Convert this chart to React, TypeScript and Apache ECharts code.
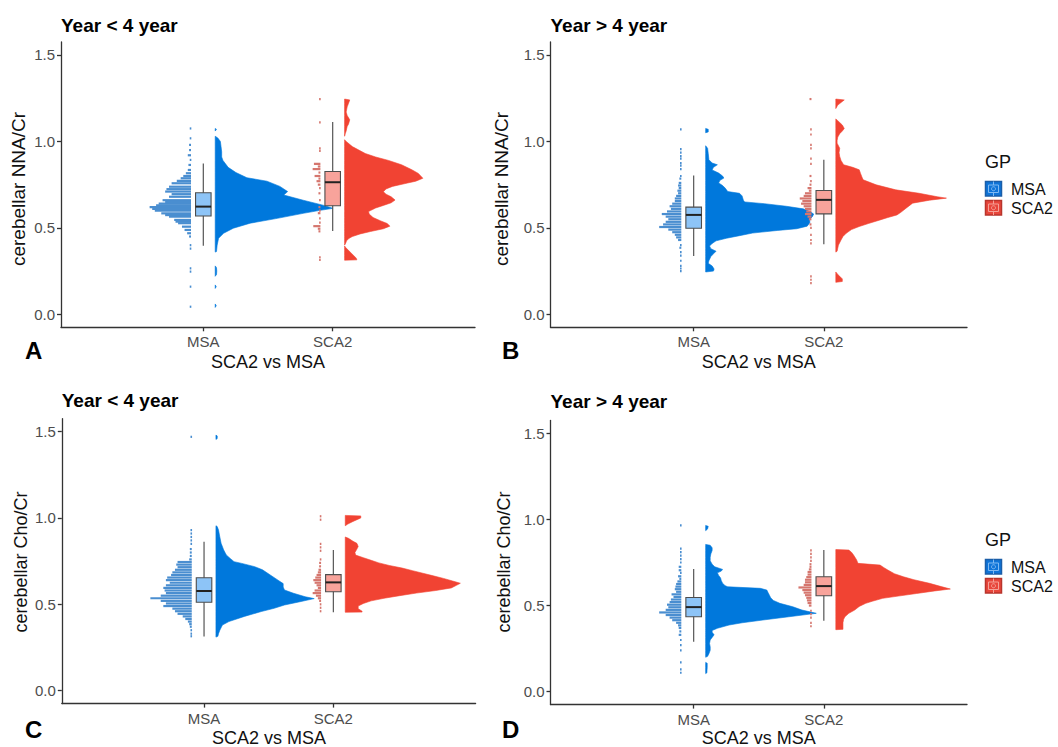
import React, { useEffect, useRef } from 'react';
import * as echarts from 'echarts';

// ---------- texts ----------
const categories = ['MSA', 'SCA2'];
const yTicks = [0, 0.5, 1.0, 1.5];
const panelTitles = ['Year < 4 year', 'Year > 4 year', 'Year < 4 year', 'Year > 4 year'];
const panelLetters = ['A', 'B', 'C', 'D'];
const yTitles = ['cerebellar NNA/Cr', 'cerebellar NNA/Cr', 'cerebellar Cho/Cr', 'cerebellar Cho/Cr'];
const xTitle = 'SCA2 vs MSA';
const legendTitle = 'GP';

// ---------- box stats [min, q1, median, q3, max] ----------
const boxA_MSA = [0.396, 0.569, 0.623, 0.703, 0.872];
const boxA_SCA2 = [0.482, 0.628, 0.764, 0.826, 1.112];
const boxB_MSA = [0.338, 0.498, 0.575, 0.62, 0.803];
const boxB_SCA2 = [0.405, 0.581, 0.662, 0.716, 0.894];
const boxC_MSA = [0.313, 0.512, 0.577, 0.654, 0.863];
const boxC_SCA2 = [0.454, 0.573, 0.627, 0.672, 0.815];
const boxD_MSA = [0.29, 0.435, 0.491, 0.547, 0.712];
const boxD_SCA2 = [0.412, 0.557, 0.613, 0.667, 0.822];

// ---------- half-violin profiles [y, half width] (top to bottom) ----------
const violinA_MSA = [
  [1.075, 0], [1.07, 0.01], [1.06, 0],
  [1.03, 0], [1.02, 0.02], [1.0, 0.04], [0.97, 0.045], [0.94, 0.05], [0.91, 0.05], [0.89, 0.06],
  [0.85, 0.1], [0.82, 0.16], [0.79, 0.245], [0.77, 0.4], [0.74, 0.5], [0.71, 0.56], [0.69, 0.53],
  [0.66, 0.68], [0.63, 0.84], [0.613, 0.91], [0.6, 0.8], [0.584, 0.68], [0.555, 0.48], [0.527, 0.27],
  [0.498, 0.14], [0.469, 0.065], [0.44, 0.026], [0.4, 0.015], [0.363, 0.01], [0.36, 0],
  [0.28, 0], [0.27, 0.01], [0.25, 0.012], [0.23, 0.01], [0.22, 0],
  [0.17, 0], [0.16, 0.008], [0.15, 0],
  [0.06, 0], [0.05, 0.008], [0.04, 0],
];
const violinA_SCA2 = [
  [1.245, 0], [1.24, 0.04], [1.22, 0.03], [1.2, 0.02], [1.17, 0.012], [1.15, 0.02], [1.125, 0.04],
  [1.1, 0.03], [1.087, 0.02], [1.06, 0.012], [1.045, 0.005], [1.03, 0],
  [1.01, 0], [1.0, 0.012], [0.97, 0.06], [0.95, 0.11], [0.93, 0.16], [0.91, 0.24], [0.89, 0.34],
  [0.865, 0.44], [0.836, 0.52], [0.815, 0.57], [0.787, 0.605], [0.77, 0.55], [0.755, 0.46],
  [0.74, 0.37], [0.725, 0.32], [0.709, 0.3], [0.695, 0.32], [0.68, 0.36], [0.661, 0.39],
  [0.645, 0.36], [0.63, 0.3], [0.615, 0.24], [0.6, 0.2], [0.594, 0.185], [0.58, 0.19],
  [0.56, 0.22], [0.54, 0.28], [0.525, 0.33], [0.51, 0.35], [0.495, 0.3], [0.479, 0.2],
  [0.465, 0.12], [0.45, 0.06], [0.44, 0.035], [0.425, 0.015], [0.411, 0.008], [0.4, 0],
  [0.395, 0], [0.385, 0.01], [0.37, 0.03], [0.355, 0.05], [0.34, 0.07], [0.325, 0.09], [0.315, 0.095], [0.313, 0],
];
const violinB_MSA = [
  [1.075, 0], [1.07, 0.02], [1.055, 0.02], [1.05, 0],
  [0.975, 0], [0.96, 0.015], [0.93, 0.02], [0.894, 0.025], [0.875, 0.05], [0.865, 0.09], [0.85, 0.06],
  [0.835, 0.05], [0.817, 0.1], [0.8, 0.13], [0.788, 0.14], [0.775, 0.11], [0.76, 0.1], [0.745, 0.13],
  [0.73, 0.15], [0.71, 0.17], [0.7, 0.26], [0.685, 0.28], [0.66, 0.29], [0.65, 0.3], [0.64, 0.45],
  [0.625, 0.62], [0.61, 0.75], [0.595, 0.8], [0.58, 0.83], [0.565, 0.82], [0.55, 0.8], [0.53, 0.8], [0.51, 0.78],
  [0.495, 0.7], [0.485, 0.55], [0.47, 0.36], [0.455, 0.26], [0.44, 0.16], [0.425, 0.08], [0.41, 0.05],
  [0.395, 0.03], [0.38, 0.04], [0.365, 0.08], [0.35, 0.06], [0.334, 0.04], [0.31, 0.025], [0.295, 0.02],
  [0.28, 0.05], [0.262, 0.065], [0.25, 0.06], [0.245, 0],
];
const violinB_SCA2 = [
  [1.245, 0], [1.24, 0.065], [1.225, 0.04], [1.21, 0.015], [1.19, 0],
  [1.13, 0], [1.12, 0.015], [1.095, 0.05], [1.075, 0.065], [1.06, 0.05], [1.045, 0.03], [1.025, 0.015],
  [1.005, 0.01], [0.99, 0.01], [0.96, 0.03], [0.935, 0.025], [0.913, 0.03], [0.89, 0.04], [0.865, 0.06],
  [0.85, 0.13], [0.836, 0.18], [0.815, 0.19], [0.795, 0.2], [0.778, 0.21], [0.749, 0.31], [0.72, 0.46],
  [0.7, 0.64], [0.68, 0.78], [0.672, 0.85], [0.66, 0.72], [0.643, 0.59], [0.614, 0.54], [0.59, 0.5],
  [0.575, 0.47], [0.56, 0.4], [0.546, 0.34], [0.525, 0.25], [0.508, 0.18], [0.49, 0.12], [0.469, 0.08],
  [0.45, 0.055], [0.43, 0.04], [0.4, 0.02], [0.365, 0.01], [0.36, 0],
  [0.245, 0], [0.235, 0.01], [0.22, 0.03], [0.205, 0.05], [0.19, 0.05], [0.185, 0],
];
const violinC_MSA = [
  [1.48, 0], [1.475, 0.01], [1.46, 0.01], [1.455, 0],
  [0.955, 0], [0.95, 0.01], [0.93, 0.02], [0.89, 0.03], [0.853, 0.04], [0.815, 0.06], [0.786, 0.08],
  [0.766, 0.11], [0.747, 0.14], [0.737, 0.2], [0.718, 0.3], [0.7, 0.36], [0.67, 0.42], [0.64, 0.48],
  [0.62, 0.52], [0.6, 0.52], [0.583, 0.53], [0.564, 0.6], [0.544, 0.69], [0.533, 0.76], [0.515, 0.65],
  [0.496, 0.53], [0.477, 0.45], [0.458, 0.35], [0.43, 0.22], [0.4, 0.1], [0.38, 0.05], [0.35, 0.03],
  [0.33, 0.02], [0.315, 0.015], [0.31, 0],
];
const violinC_SCA2 = [
  [1.015, 0], [1.012, 0.12], [1.0, 0.12], [0.99, 0.09], [0.98, 0.06], [0.965, 0.02], [0.955, 0],
  [0.89, 0], [0.882, 0.025], [0.865, 0.06], [0.853, 0.09], [0.835, 0.1], [0.82, 0.09], [0.8, 0.075],
  [0.785, 0.08], [0.77, 0.14], [0.755, 0.2], [0.74, 0.26], [0.725, 0.34], [0.71, 0.44], [0.695, 0.52],
  [0.68, 0.6], [0.665, 0.68], [0.65, 0.76], [0.635, 0.83], [0.622, 0.89], [0.61, 0.86], [0.595, 0.82],
  [0.58, 0.7], [0.565, 0.55], [0.55, 0.42], [0.535, 0.3], [0.52, 0.2], [0.505, 0.14], [0.49, 0.1],
  [0.475, 0.1], [0.46, 0.13], [0.455, 0.13], [0.454, 0],
];
const violinD_MSA = [
  [0.965, 0], [0.96, 0.02], [0.945, 0.015], [0.935, 0],
  [0.855, 0], [0.85, 0.035], [0.835, 0.05], [0.82, 0.05], [0.8, 0.04], [0.78, 0.035], [0.76, 0.035],
  [0.74, 0.05], [0.725, 0.07], [0.71, 0.13], [0.7, 0.12], [0.69, 0.09], [0.675, 0.1], [0.66, 0.115],
  [0.645, 0.12], [0.63, 0.13], [0.615, 0.15], [0.609, 0.17], [0.6, 0.42], [0.59, 0.47], [0.575, 0.48],
  [0.56, 0.49], [0.545, 0.5], [0.53, 0.52], [0.513, 0.57], [0.493, 0.67], [0.474, 0.74], [0.455, 0.85],
  [0.435, 0.64], [0.416, 0.44], [0.4, 0.28], [0.387, 0.18], [0.368, 0.09], [0.355, 0.05], [0.345, 0.05],
  [0.33, 0.065], [0.315, 0.05], [0.3, 0.035], [0.28, 0.03], [0.26, 0.035], [0.24, 0.035], [0.22, 0.025],
  [0.205, 0.015], [0.2, 0],
  [0.17, 0], [0.165, 0.012], [0.14, 0.012], [0.12, 0.01], [0.11, 0.01], [0.105, 0],
];
const violinD_SCA2 = [
  [0.825, 0], [0.822, 0.1], [0.81, 0.12], [0.795, 0.135], [0.783, 0.145], [0.765, 0.16], [0.745, 0.17],
  [0.735, 0.34], [0.72, 0.37], [0.706, 0.4], [0.685, 0.45], [0.667, 0.52], [0.65, 0.6], [0.629, 0.72],
  [0.61, 0.81], [0.596, 0.88], [0.585, 0.76], [0.57, 0.62], [0.555, 0.48], [0.542, 0.36], [0.525, 0.28],
  [0.513, 0.23], [0.495, 0.18], [0.474, 0.145], [0.455, 0.1], [0.435, 0.07], [0.42, 0.06], [0.4, 0.055],
  [0.38, 0.055], [0.362, 0.055], [0.36, 0],
];

// ---------- dot strips [y, stack length] ----------
const dotsA_MSA = [
  [1.075, 0.01], [1.018, 0.01], [0.98, 0.015], [0.95, 0.015], [0.92, 0.025], [0.893, 0.01], [0.864, 0.02],
  [0.835, 0.025], [0.816, 0.04], [0.8, 0.06], [0.787, 0.08], [0.772, 0.11], [0.758, 0.15], [0.738, 0.17],
  [0.724, 0.19], [0.71, 0.2], [0.695, 0.15], [0.68, 0.17], [0.66, 0.22], [0.65, 0.2], [0.64, 0.25],
  [0.63, 0.27], [0.62, 0.32], [0.61, 0.3], [0.6, 0.28], [0.584, 0.23], [0.574, 0.2], [0.565, 0.17],
  [0.546, 0.13], [0.536, 0.12], [0.527, 0.1], [0.507, 0.07], [0.488, 0.05], [0.469, 0.03], [0.45, 0.015],
  [0.4, 0.01], [0.38, 0.01], [0.266, 0.01], [0.247, 0.01], [0.16, 0.01], [0.044, 0.01],
];
const dotsA_SCA2 = [
  [1.245, 0.01], [1.11, 0.01], [0.96, 0.01], [0.945, 0.01], [0.87, 0.05], [0.855, 0.02], [0.84, 0.06],
  [0.82, 0.015], [0.8, 0.045], [0.785, 0.015], [0.77, 0.03], [0.75, 0.02], [0.73, 0.01], [0.7, 0.015],
  [0.66, 0.01], [0.62, 0.015], [0.6, 0.01], [0.585, 0.02], [0.555, 0.01], [0.53, 0.01], [0.51, 0.055],
  [0.495, 0.02], [0.48, 0.015], [0.33, 0.01], [0.315, 0.01],
];
const dotsB_MSA = [
  [1.07, 0.01], [0.955, 0.01], [0.935, 0.01], [0.915, 0.01], [0.9, 0.01], [0.875, 0.01], [0.86, 0.01],
  [0.84, 0.01], [0.8, 0.01], [0.785, 0.015], [0.76, 0.02], [0.745, 0.025], [0.73, 0.02], [0.715, 0.03],
  [0.7, 0.025], [0.685, 0.04], [0.67, 0.05], [0.655, 0.05], [0.64, 0.07], [0.625, 0.09], [0.61, 0.08],
  [0.595, 0.11], [0.58, 0.15], [0.565, 0.12], [0.55, 0.1], [0.535, 0.12], [0.52, 0.14], [0.505, 0.17],
  [0.49, 0.1], [0.475, 0.07], [0.46, 0.05], [0.445, 0.04], [0.43, 0.025], [0.4, 0.01], [0.385, 0.015],
  [0.36, 0.01], [0.34, 0.01], [0.31, 0.01], [0.28, 0.01], [0.265, 0.01], [0.25, 0.01],
];
const dotsB_SCA2 = [
  [1.245, 0.015], [1.07, 0.01], [1.04, 0.01], [0.98, 0.01], [0.96, 0.01], [0.9, 0.01], [0.87, 0.01],
  [0.8, 0.015], [0.77, 0.01], [0.75, 0.015], [0.73, 0.03], [0.715, 0.02], [0.7, 0.05], [0.685, 0.06],
  [0.67, 0.09], [0.655, 0.07], [0.64, 0.08], [0.625, 0.06], [0.61, 0.05], [0.595, 0.04], [0.58, 0.05],
  [0.565, 0.03], [0.55, 0.02], [0.52, 0.015], [0.5, 0.01], [0.46, 0.01], [0.43, 0.01], [0.41, 0.01],
  [0.22, 0.01], [0.2, 0.01], [0.18, 0.01],
];
const dotsC_MSA = [
  [1.47, 0.01], [0.93, 0.01], [0.91, 0.01], [0.89, 0.01], [0.87, 0.01], [0.85, 0.01], [0.82, 0.015],
  [0.8, 0.015], [0.78, 0.015], [0.76, 0.02], [0.745, 0.11], [0.73, 0.12], [0.715, 0.11], [0.7, 0.13],
  [0.685, 0.15], [0.67, 0.16], [0.655, 0.19], [0.64, 0.2], [0.625, 0.17], [0.61, 0.2], [0.595, 0.22],
  [0.58, 0.21], [0.565, 0.2], [0.55, 0.24], [0.535, 0.32], [0.52, 0.24], [0.505, 0.2], [0.49, 0.22],
  [0.475, 0.15], [0.46, 0.13], [0.445, 0.11], [0.43, 0.07], [0.415, 0.05], [0.4, 0.03], [0.385, 0.02],
  [0.37, 0.015], [0.35, 0.01], [0.33, 0.01], [0.315, 0.01],
];
const dotsC_SCA2 = [
  [1.01, 0.01], [0.99, 0.01], [0.85, 0.01], [0.83, 0.01], [0.81, 0.01], [0.76, 0.01], [0.74, 0.015],
  [0.72, 0.015], [0.7, 0.02], [0.685, 0.025], [0.67, 0.035], [0.655, 0.045], [0.64, 0.06], [0.625, 0.05],
  [0.61, 0.035], [0.595, 0.025], [0.58, 0.05], [0.565, 0.065], [0.55, 0.04], [0.535, 0.025], [0.52, 0.015],
  [0.5, 0.01], [0.48, 0.01], [0.46, 0.01],
];
const dotsD_MSA = [
  [0.965, 0.01], [0.83, 0.01], [0.81, 0.01], [0.79, 0.01], [0.77, 0.01], [0.75, 0.01], [0.725, 0.02],
  [0.705, 0.02], [0.69, 0.01], [0.67, 0.025], [0.655, 0.015], [0.64, 0.03], [0.625, 0.04], [0.61, 0.045],
  [0.595, 0.05], [0.58, 0.04], [0.565, 0.075], [0.55, 0.06], [0.535, 0.08], [0.52, 0.09], [0.505, 0.11],
  [0.49, 0.1], [0.475, 0.12], [0.46, 0.17], [0.445, 0.12], [0.43, 0.09], [0.415, 0.07], [0.4, 0.04],
  [0.385, 0.025], [0.37, 0.02], [0.35, 0.015], [0.33, 0.02], [0.3, 0.01], [0.27, 0.01], [0.24, 0.01],
  [0.17, 0.01], [0.13, 0.01], [0.11, 0.01],
];
const dotsD_SCA2 = [
  [0.82, 0.01], [0.8, 0.01], [0.78, 0.01], [0.76, 0.01], [0.74, 0.015], [0.725, 0.015], [0.71, 0.02],
  [0.695, 0.03], [0.68, 0.03], [0.665, 0.04], [0.65, 0.05], [0.635, 0.05], [0.62, 0.06], [0.605, 0.1],
  [0.59, 0.07], [0.575, 0.06], [0.56, 0.05], [0.545, 0.04], [0.53, 0.035], [0.515, 0.03], [0.5, 0.02],
  [0.47, 0.01], [0.45, 0.01], [0.43, 0.01], [0.4, 0.01], [0.38, 0.01],
];

// ---------- styling ----------
const violinColors = ['#0078DC', '#F14333'];
const boxFill = ['#8DC4F7', '#F8A39B'];
const dotColors = ['#4A8ED0', '#D5766E'];
const legendFill = ['#0F74D8', '#E8463B'];
const legendStroke = ['#1B5EA8', '#B8352C'];
const legendInner = ['#7FB9F2', '#F5A096'];
const FONT = '"Liberation Sans", Arial, Helvetica, sans-serif';

const VOFF = 0.092;
const DOFF = 0.095;
const BOXW = 0.06;

const panels = [
  { violins: [violinA_MSA, violinA_SCA2], dots: [dotsA_MSA, dotsA_SCA2], boxes: [boxA_MSA, boxA_SCA2] },
  { violins: [violinB_MSA, violinB_SCA2], dots: [dotsB_MSA, dotsB_SCA2], boxes: [boxB_MSA, boxB_SCA2] },
  { violins: [violinC_MSA, violinC_SCA2], dots: [dotsC_MSA, dotsC_SCA2], boxes: [boxC_MSA, boxC_SCA2] },
  { violins: [violinD_MSA, violinD_SCA2], dots: [dotsD_MSA, dotsD_SCA2], boxes: [boxD_MSA, boxD_SCA2] },
];

const grids = [
  { left: 61, top: 42, width: 414, height: 285.3 },
  { left: 550.5, top: 42, width: 416.5, height: 285.3 },
  { left: 61.8, top: 418.7, width: 413.8, height: 284.9 },
  { left: 550.5, top: 420.4, width: 416.5, height: 284.2 },
];

function splitPieces(prof: number[][]) {
  const pieces: number[][][] = [];
  let cur: number[][] = [];
  for (let i = 0; i < prof.length; i++) {
    const p = prof[i];
    cur.push(p);
    if (p[1] === 0 && cur.length > 1) {
      pieces.push(cur);
      cur = [p];
    }
  }
  if (cur.length > 1) pieces.push(cur);
  return pieces.filter((pc) => pc.some((p) => p[1] > 0));
}

function App() {
  const ref = useRef<HTMLDivElement>(null);
  useEffect(() => {
    if (!ref.current) return;
    const chart = echarts.init(ref.current, null, { renderer: 'svg' });

    const axisLineStyle = { color: '#333333', width: 1.3 };
    const xAxes = grids.map((_, i) => ({
      type: 'value', gridIndex: i, min: -0.1, max: 3.1,
      splitLine: { show: false },
      axisLine: { show: true, onZero: false, lineStyle: axisLineStyle },
      axisTick: { show: true, length: 4, customValues: [1, 2], lineStyle: axisLineStyle },
      axisLabel: {
        show: true, customValues: [1, 2], margin: 7, color: '#4D4D4D', fontSize: 15, fontFamily: FONT,
        formatter: (v: number) => categories[Math.round(v) - 1] || '',
      },
    }));
    const yAxes = grids.map((_, i) => ({
      type: 'value', gridIndex: i, min: -0.075, max: 1.575,
      splitLine: { show: false },
      axisLine: { show: true, onZero: false, lineStyle: axisLineStyle },
      axisTick: { show: true, length: 4, customValues: yTicks, lineStyle: axisLineStyle },
      axisLabel: {
        show: true, customValues: yTicks, margin: 6, color: '#4D4D4D', fontSize: 15, fontFamily: FONT,
        formatter: (v: number) => v.toFixed(1),
      },
    }));

    const series: any[] = [];
    panels.forEach((pan, i) => {
      series.push({
        type: 'custom', name: 'violin' + i, xAxisIndex: i, yAxisIndex: i, silent: true, clip: false,
        data: [[1, 0.6], [2, 0.6]],
        encode: { x: 0, y: 1 },
        renderItem: (params: any, api: any) => {
          const g = params.dataIndex;
          const pos = g + 1;
          const children: any[] = [];
          splitPieces(pan.violins[g]).forEach((piece) => {
            const pts: number[][] = [];
            piece.forEach(([y, w]) => pts.push(api.coord([pos + VOFF + w, y])));
            for (let k = piece.length - 1; k >= 0; k--) pts.push(api.coord([pos + VOFF, piece[k][0]]));
            children.push({ type: 'polygon', shape: { points: pts }, style: { fill: violinColors[g], stroke: violinColors[g], lineWidth: 0.6 } });
          });
          return { type: 'group', children };
        },
      });
      series.push({
        type: 'custom', name: 'dots' + i, xAxisIndex: i, yAxisIndex: i, silent: true, clip: false,
        data: [[1, 0.6], [2, 0.6]],
        encode: { x: 0, y: 1 },
        renderItem: (params: any, api: any) => {
          const g = params.dataIndex;
          const pos = g + 1;
          const children = pan.dots[g].map(([y, len]) => {
            const a = api.coord([pos - DOFF - len, y]);
            const b = api.coord([pos - DOFF, y]);
            return {
              type: 'rect',
              shape: { x: a[0], y: a[1] - 1.1, width: Math.max(b[0] - a[0], 1.6), height: 2.2 },
              style: { fill: dotColors[g] },
            };
          });
          return { type: 'group', children };
        },
      });
      series.push({
        type: 'custom', name: 'box' + i, xAxisIndex: i, yAxisIndex: i, silent: true, clip: false,
        data: [[1, 0.6], [2, 0.6]],
        encode: { x: 0, y: 1 },
        renderItem: (params: any, api: any) => {
          const g = params.dataIndex;
          const pos = g + 1;
          const [mn, q1, md, q3, mx] = pan.boxes[g];
          const top = api.coord([pos, mx]);
          const bot = api.coord([pos, mn]);
          const lt = api.coord([pos - BOXW, q3]);
          const rb = api.coord([pos + BOXW, q1]);
          const ml = api.coord([pos - BOXW, md]);
          const mr = api.coord([pos + BOXW, md]);
          return {
            type: 'group',
            children: [
              { type: 'line', shape: { x1: top[0], y1: top[1], x2: bot[0], y2: bot[1] }, style: { stroke: '#555555', lineWidth: 1.2 } },
              { type: 'rect', shape: { x: lt[0], y: lt[1], width: rb[0] - lt[0], height: rb[1] - lt[1] }, style: { fill: boxFill[g], stroke: '#4D4D4D', lineWidth: 1.1 } },
              { type: 'line', shape: { x1: ml[0], y1: ml[1], x2: mr[0], y2: mr[1] }, style: { stroke: '#222222', lineWidth: 2 } },
            ],
          };
        },
      });
    });

    const graphics: any[] = [];
    const titlePos = [[61, 25], [550.5, 25], [61.7, 400], [550.5, 401.5]];
    const letterPos = [[25, 350], [502, 350], [25, 729], [502, 729]];
    const yTitlePos = [[18, 189], [501, 189], [21, 562], [504, 562]];
    const xTitlePos = [[268, 362], [758.7, 362], [269, 737.5], [758.7, 737.5]];
    const yTitleSize = [19, 19, 18, 18];
    for (let i = 0; i < 4; i++) {
      graphics.push({ type: 'text', x: titlePos[i][0], y: titlePos[i][1], style: { text: panelTitles[i], font: `bold 19px ${FONT}`, fill: '#000', textAlign: 'left', textVerticalAlign: 'middle' } });
      graphics.push({ type: 'text', x: letterPos[i][0], y: letterPos[i][1], style: { text: panelLetters[i], font: `bold 24px ${FONT}`, fill: '#000', textAlign: 'left', textVerticalAlign: 'middle' } });
      graphics.push({ type: 'text', x: yTitlePos[i][0], y: yTitlePos[i][1], rotation: Math.PI / 2, style: { text: yTitles[i], font: `${yTitleSize[i]}px ${FONT}`, fill: '#111', textAlign: 'center', textVerticalAlign: 'middle' } });
      graphics.push({ type: 'text', x: xTitlePos[i][0], y: xTitlePos[i][1], style: { text: xTitle, font: `18px ${FONT}`, fill: '#111', textAlign: 'center', textVerticalAlign: 'middle' } });
    }
    const legendTops = [162, 540];
    legendTops.forEach((ly) => {
      graphics.push({ type: 'text', x: 985, y: ly, style: { text: legendTitle, font: `18px ${FONT}`, fill: '#111', textAlign: 'left', textVerticalAlign: 'middle' } });
      categories.forEach((c, g) => {
        const ky = ly + 19.5 + g * 19;
        const kx = 985.5;
        graphics.push({ type: 'rect', shape: { x: kx, y: ky, width: 16, height: 14.5 }, style: { fill: legendFill[g], stroke: legendStroke[g], lineWidth: 1.5 } });
        graphics.push({ type: 'rect', shape: { x: kx + 3, y: ky + 3.5, width: 10, height: 7.5 }, style: { fill: 'none', stroke: legendInner[g], lineWidth: 1 } });
        graphics.push({ type: 'line', shape: { x1: kx + 8, y1: ky, x2: kx + 8, y2: ky + 3.5 }, style: { stroke: legendInner[g], lineWidth: 1 } });
        graphics.push({ type: 'line', shape: { x1: kx + 8, y1: ky + 11, x2: kx + 8, y2: ky + 14.5 }, style: { stroke: legendInner[g], lineWidth: 1 } });
        graphics.push({ type: 'circle', shape: { cx: kx + 8, cy: ky + 7.25, r: 2 }, style: { fill: 'none', stroke: legendInner[g], lineWidth: 1 } });
        graphics.push({ type: 'text', x: 1011, y: ky + 7.5, style: { text: c, font: `16px ${FONT}`, fill: '#111', textAlign: 'left', textVerticalAlign: 'middle' } });
      });
    });

    chart.setOption({
      animation: false,
      backgroundColor: '#ffffff',
      grid: grids.map((g) => ({ ...g, containLabel: false })),
      xAxis: xAxes,
      yAxis: yAxes,
      series,
      graphic: graphics,
    });
    return () => chart.dispose();
  }, []);
  return <div ref={ref} style={{ position: 'fixed', left: 0, top: 0, width: 1058, height: 747, background: '#fff' }} />;
}

export default App;
